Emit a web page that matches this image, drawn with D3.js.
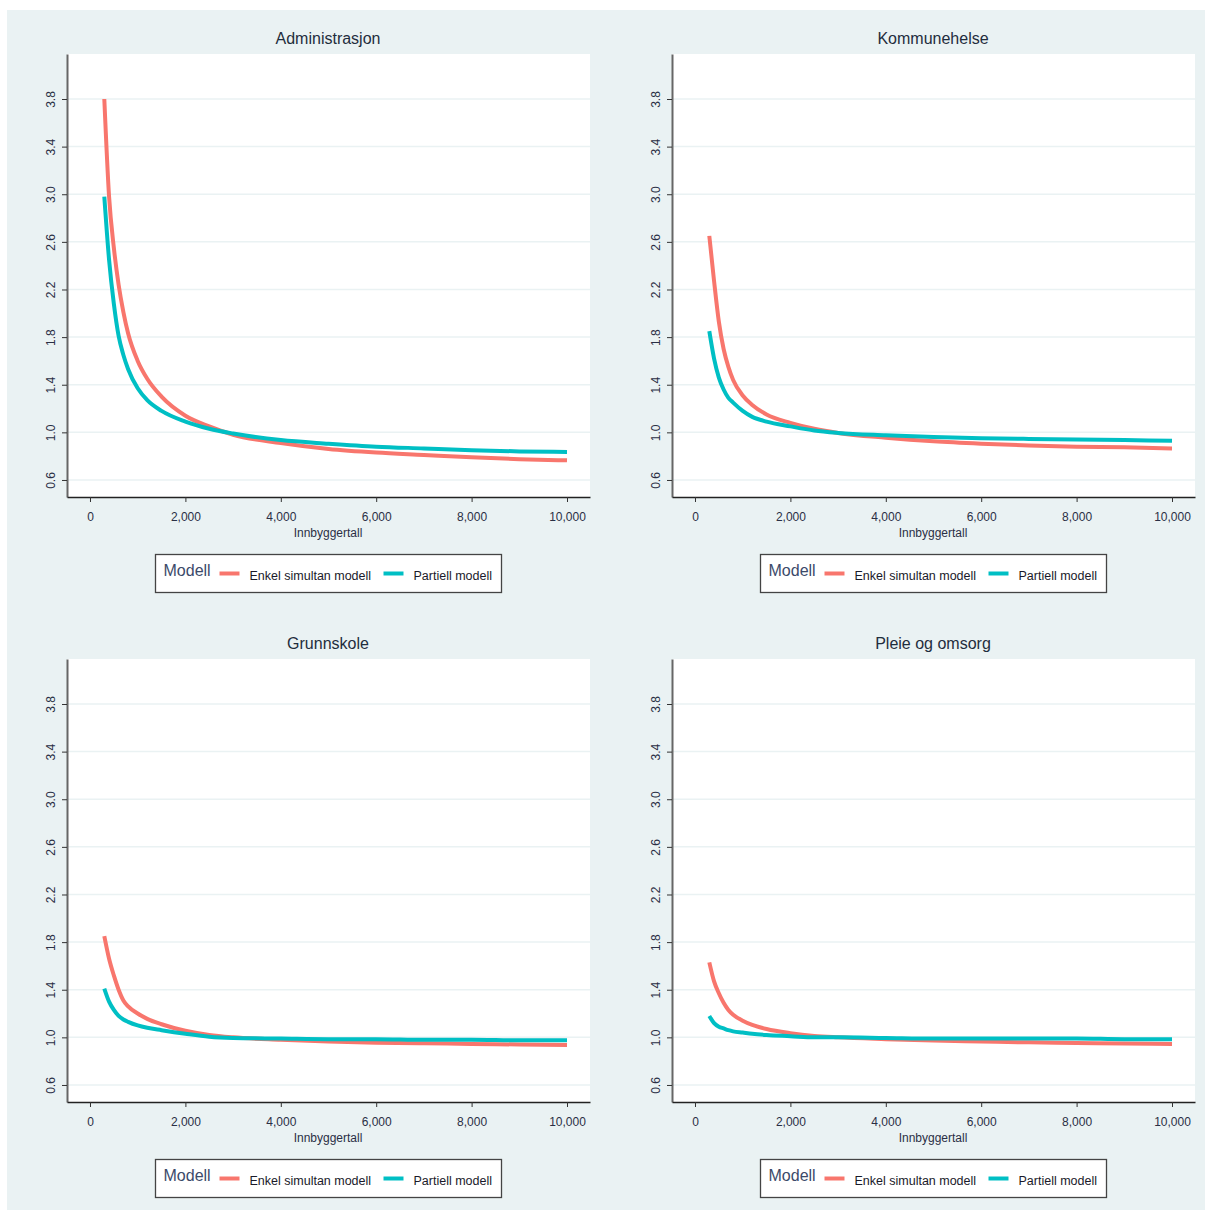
<!DOCTYPE html>
<html>
<head>
<meta charset="utf-8">
<script src="https://cdn.jsdelivr.net/npm/d3@7"></script>
<style>
  body { margin: 0; background: #fff; }
  svg { display: block; font-family: Arial, "Liberation Sans", sans-serif; }
</style>
</head>
<body>
<svg id="chart"></svg>
<script>
var xPop = [300, 400, 500, 600, 700, 800, 1000, 1200, 1500, 2000, 2500, 3000, 4000, 5000, 6000, 7000, 8000, 9000, 10000];

var adminEnkel    = [3.80, 2.98, 2.55, 2.24, 2.01, 1.83, 1.60, 1.45, 1.30, 1.14, 1.05, 0.98, 0.91, 0.86, 0.83, 0.81, 0.79, 0.775, 0.765];
var adminPartiell = [2.98, 2.45, 2.08, 1.81, 1.65, 1.53, 1.37, 1.27, 1.18, 1.09, 1.03, 0.99, 0.935, 0.905, 0.88, 0.865, 0.85, 0.84, 0.835];
var komEnkel      = [2.65, 2.27, 1.93, 1.70, 1.55, 1.44, 1.31, 1.23, 1.15, 1.08, 1.03, 0.995, 0.955, 0.925, 0.905, 0.89, 0.88, 0.875, 0.865];
var komPartiell   = [1.85, 1.62, 1.46, 1.36, 1.29, 1.25, 1.18, 1.13, 1.09, 1.05, 1.015, 0.995, 0.975, 0.96, 0.95, 0.945, 0.94, 0.935, 0.93];
var grunnEnkel    = [1.85, 1.66, 1.52, 1.40, 1.31, 1.26, 1.20, 1.155, 1.11, 1.055, 1.02, 1.0, 0.98, 0.965, 0.955, 0.95, 0.945, 0.94, 0.935];
var grunnPartiell = [1.41, 1.30, 1.23, 1.18, 1.15, 1.13, 1.10, 1.08, 1.06, 1.03, 1.005, 0.995, 0.99, 0.985, 0.985, 0.98, 0.98, 0.975, 0.975];
var pleieEnkel    = [1.63, 1.47, 1.37, 1.29, 1.23, 1.19, 1.14, 1.105, 1.07, 1.035, 1.012, 1.0, 0.985, 0.973, 0.965, 0.958, 0.953, 0.948, 0.945];
var pleiePartiell = [1.18, 1.12, 1.09, 1.075, 1.06, 1.05, 1.04, 1.03, 1.02, 1.01, 1.0, 1.0, 0.995, 0.99, 0.99, 0.99, 0.99, 0.985, 0.985];

var panelTitles = ["Administrasjon", "Kommunehelse", "Grunnskole", "Pleie og omsorg"];
var panelSeries = [[adminEnkel, adminPartiell], [komEnkel, komPartiell], [grunnEnkel, grunnPartiell], [pleieEnkel, pleiePartiell]];
var seriesNames = ["Enkel simultan modell", "Partiell modell"];
var seriesColors = ["#F8766D", "#00BFC4"];
var yTicks = [0.6, 1.0, 1.4, 1.8, 2.2, 2.6, 3.0, 3.4, 3.8];
var xTicks = [0, 2000, 4000, 6000, 8000, 10000];

var width = 1206, height = 1211;
var bg = "#EAF2F3";
var svg = d3.select("#chart").attr("width", width).attr("height", height);

// outer light panel
svg.append("rect").attr("x", 7).attr("y", 10).attr("width", 1198).attr("height", 1200).attr("fill", bg);

var plotW = 523, plotH = 443;
var x = d3.scaleLinear().domain([-482, 10482]).range([0, plotW]);
var y = d3.scaleLinear().domain([0.457, 4.178]).range([plotH, 0]);
var fmt = d3.format(",");

var line = d3.line()
  .x(d => x(d[0]))
  .y(d => y(d[1]))
  .curve(d3.curveMonotoneX);

panelTitles.forEach(function(title, i) {
  var ox = (i % 2) * 605, oy = Math.floor(i / 2) * 605;
  var g = svg.append("g").attr("transform", "translate(" + ox + "," + oy + ")");

  g.append("text").attr("x", 328).attr("y", 44).attr("text-anchor", "middle")
    .attr("font-size", 16).attr("fill", "#1f2d3d").text(title);

  var plot = g.append("g").attr("transform", "translate(67,54)");
  plot.append("rect").attr("width", plotW).attr("height", plotH).attr("fill", "#fff");

  // grid lines
  plot.selectAll(".grid").data(yTicks).enter().append("line")
    .attr("x1", 0).attr("x2", plotW)
    .attr("y1", d => y(d)).attr("y2", d => y(d))
    .attr("stroke", bg).attr("stroke-width", 1.5);

  // y axis
  var yAxis = plot.append("g").call(d3.axisLeft(y).tickValues(yTicks).tickFormat(d3.format(".1f")).tickSize(5).tickSizeOuter(0));
  yAxis.select(".domain").attr("stroke", "#666").attr("stroke-width", 2);
  yAxis.selectAll(".tick line").attr("stroke", "#333");
  yAxis.selectAll(".tick text")
    .attr("font-size", 12).attr("fill", "#2a2f45")
    .attr("text-anchor", "middle").attr("x", 0).attr("dy", 0)
    .attr("transform", "translate(-12,0) rotate(-90)");

  // x axis
  var xAxis = plot.append("g").attr("transform", "translate(0," + plotH + ")")
    .call(d3.axisBottom(x).tickValues(xTicks).tickFormat(fmt).tickSize(5).tickSizeOuter(0));
  xAxis.select(".domain").attr("stroke", "#222").attr("stroke-width", 1.5);
  xAxis.selectAll(".tick line").attr("stroke", "#333");
  xAxis.selectAll(".tick text").attr("font-size", 12).attr("fill", "#2a2f45").attr("y", 15);

  g.append("text").attr("x", 328).attr("y", 537).attr("text-anchor", "middle")
    .attr("font-size", 12).attr("fill", "#2a2f45").text("Innbyggertall");

  // curves
  panelSeries[i].forEach(function(vals, s) {
    var pts = xPop.map((xv, k) => [xv, vals[k]]);
    plot.append("path").datum(pts)
      .attr("fill", "none").attr("stroke", seriesColors[s])
      .attr("stroke-width", 4).attr("d", line);
  });

  // legend
  var lg = g.append("g").attr("transform", "translate(155.5,554.5)");
  lg.append("rect").attr("width", 346).attr("height", 38)
    .attr("fill", "#fff").attr("stroke", "#444").attr("stroke-width", 1.3);
  lg.append("text").attr("x", 8).attr("y", 21).attr("font-size", 16).attr("fill", "#3c4a6a").text("Modell");
  var legX = [[64, 94], [228, 258]];
  seriesNames.forEach(function(name, s) {
    lg.append("line").attr("x1", legX[s][0]).attr("x2", legX[s][0] + 20)
      .attr("y1", 19).attr("y2", 19).attr("stroke", seriesColors[s]).attr("stroke-width", 4);
    lg.append("text").attr("x", legX[s][1]).attr("y", 25).attr("font-size", 12.5)
      .attr("fill", "#1a1a2a").text(name);
  });
});
</script>
</body>
</html>
